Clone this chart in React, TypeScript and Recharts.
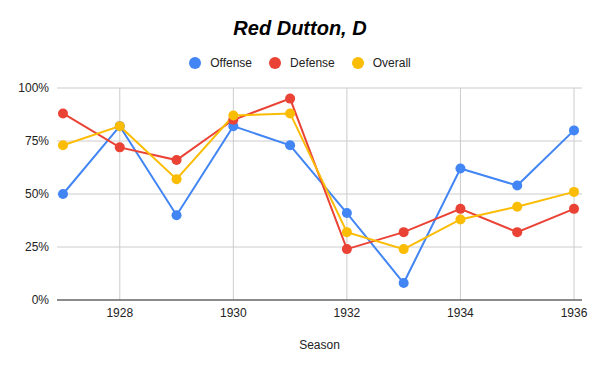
import { LineChart, Line, XAxis, YAxis, CartesianGrid, ReferenceLine } from 'recharts';

// Season-by-season ratings for Red Dutton (percent)
const SEASONS = [1927, 1928, 1929, 1930, 1931, 1932, 1933, 1934, 1935, 1936];
const OFFENSE = [50, 82, 40, 82, 73, 41, 8, 62, 54, 80];
const DEFENSE = [88, 72, 66, 85, 95, 24, 32, 43, 32, 43];
const OVERALL = [73, 82, 57, 87, 88, 32, 24, 38, 44, 51];

const X_TICKS = [1928, 1930, 1932, 1934, 1936];
const Y_TICKS = [0, 25, 50, 75, 100];

const SERIES = [
  { key: 'offense', name: 'Offense', color: '#4285F4' },
  { key: 'defense', name: 'Defense', color: '#EA4335' },
  { key: 'overall', name: 'Overall', color: '#FBBC04' },
];

const data = SEASONS.map((season, i) => ({
  season,
  offense: OFFENSE[i],
  defense: DEFENSE[i],
  overall: OVERALL[i],
}));

const FONT = '"Liberation Sans", Arial, sans-serif';

function TopLegend() {
  return (
    <div
      style={{
        position: 'absolute',
        top: 55,
        left: 0,
        width: 600,
        display: 'flex',
        justifyContent: 'center',
        alignItems: 'center',
        fontFamily: FONT,
        fontSize: 12,
        lineHeight: '16px',
        color: '#222',
      }}
    >
      {SERIES.map((s) => (
        <div key={s.key} style={{ display: 'flex', alignItems: 'center', margin: '0 8.5px' }}>
          <span style={{ width: 12, height: 12, borderRadius: 6, background: s.color, display: 'inline-block', marginRight: 9 }} />
          <span>{s.name}</span>
        </div>
      ))}
    </div>
  );
}

export default function App() {
  return (
    <div style={{ position: 'absolute', left: 0, top: 0, width: 600, height: 371, background: '#fff' }}>
      <div
        style={{
          position: 'absolute',
          top: 17,
          left: 0,
          width: 600,
          textAlign: 'center',
          fontFamily: FONT,
          fontSize: 20,
          fontWeight: 'bold',
          fontStyle: 'italic',
          color: '#000',
        }}
      >
        Red Dutton, D
      </div>
      <TopLegend />
      <LineChart width={600} height={371} data={data} margin={{ top: 88, right: 18, left: 0, bottom: 41 }}>
        <CartesianGrid stroke="#cccccc" vertical={false} />
        {X_TICKS.map((t) => (
          <ReferenceLine key={t} x={t} stroke="#cccccc" />
        ))}
        <XAxis
          dataKey="season"
          type="number"
          domain={[1927, 1936]}
          ticks={X_TICKS}
          height={30}
          padding={{ left: 6, right: 8 }}
          axisLine={{ stroke: '#333333' }}
          tickLine={false}
          tick={{ fill: '#222', fontSize: 12, fontFamily: FONT }}
          label={{ value: 'Season', position: 'bottom', offset: 10, fill: '#222', fontSize: 12, fontFamily: FONT }}
        />
        <YAxis
          domain={[0, 100]}
          ticks={Y_TICKS}
          width={57}
          axisLine={false}
          tickLine={false}
          tick={{ fill: '#222', fontSize: 12, fontFamily: FONT }}
          tickFormatter={(v) => `${v}%`}
        />
        {SERIES.map((s) => (
          <Line
            key={s.key}
            type="linear"
            dataKey={s.key}
            name={s.name}
            stroke={s.color}
            strokeWidth={2}
            dot={{ r: 5, fill: s.color, stroke: s.color, strokeWidth: 0 }}
            activeDot={false}
            isAnimationActive={false}
          />
        ))}
      </LineChart>
    </div>
  );
}
